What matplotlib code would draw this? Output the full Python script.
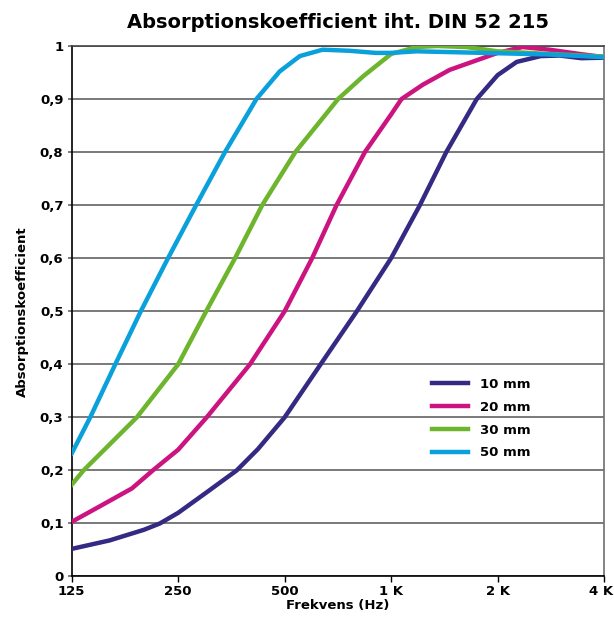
import matplotlib
matplotlib.use("Agg")
import matplotlib.pyplot as plt
from matplotlib.ticker import FixedLocator, NullLocator
from matplotlib.transforms import ScaledTranslation

# readings taken off the reference chart: frequency (Hz) and absorption coefficient
f10 = [125, 160, 200, 222, 250, 300, 366, 420, 500, 632, 800, 1000, 1206, 1432, 1746, 2000, 2265, 2650, 3000, 3450, 4000]
a10 = [0.052, 0.068, 0.088, 0.10, 0.12, 0.158, 0.20, 0.24, 0.30, 0.40, 0.50, 0.60, 0.70, 0.80, 0.90, 0.945, 0.970, 0.981, 0.982, 0.977, 0.978]

f20 = [125, 148, 185, 212, 250, 301, 399, 500, 598, 701, 843, 1000, 1070, 1229, 1464, 2000, 2352, 2805, 3409, 4000]
a20 = [0.103, 0.13, 0.166, 0.20, 0.239, 0.30, 0.40, 0.50, 0.60, 0.70, 0.80, 0.871, 0.90, 0.927, 0.955, 0.987, 0.998, 0.993, 0.985, 0.979]

f30 = [125, 135, 191, 250, 300, 362, 432, 536, 708, 834, 1000, 1181, 1350, 1630, 2000, 2805, 4000]
a30 = [0.173, 0.20, 0.30, 0.40, 0.50, 0.60, 0.70, 0.80, 0.90, 0.943, 0.985, 0.998, 1.0, 0.998, 0.99, 0.985, 0.98]

f50 = [125, 141, 166, 196, 234, 281, 339, 416, 484, 552, 640, 762, 903, 1000, 1181, 1823, 2805, 4000]
a50 = [0.232, 0.30, 0.40, 0.50, 0.60, 0.70, 0.80, 0.90, 0.952, 0.981, 0.993, 0.991, 0.987, 0.987, 0.99, 0.987, 0.984, 0.979]

series = [("10 mm", f10, a10, "#342a83"),
          ("20 mm", f20, a20, "#cc1480"),
          ("30 mm", f30, a30, "#6cb52d"),
          ("50 mm", f50, a50, "#0aa0dc")]

xticks = [125, 250, 500, 1000, 2000, 4000]
xlabels = ["125", "250", "500", "1 K", "2 K", "4 K"]
yticks = [0, 0.1, 0.2, 0.3, 0.4, 0.5, 0.6, 0.7, 0.8, 0.9, 1.0]
ylabels = ["0", "0,1", "0,2", "0,3", "0,4", "0,5", "0,6", "0,7", "0,8", "0,9", "1"]

plt.rcParams['font.family'] = ['DejaVu Sans']
fig = plt.figure(figsize=(6.14, 6.19), dpi=100)
ax = fig.add_axes([0.1168, 0.0687, 0.867, 0.857])

for label, fr, vals, col in series:
    ax.plot(fr, vals, color=col, lw=3.2, label=label, solid_joinstyle='round', zorder=3)

ax.set_xscale('log')
ax.set_xlim(125, 4000)
ax.set_ylim(0, 1)
ax.xaxis.set_major_locator(FixedLocator(xticks))
ax.xaxis.set_minor_locator(NullLocator())
ax.set_xticklabels(xlabels, fontsize=9.5, fontweight='bold')
ax.set_yticks(yticks)
ax.set_yticklabels(ylabels, fontsize=9.5, fontweight='bold')
ax.tick_params(axis='x', length=4, width=1, pad=2)
ax.tick_params(axis='y', length=3, width=1.2, color='#666666', pad=3)

# keep the last x label inside the figure
last = ax.get_xticklabels()[-1]
last.set_transform(last.get_transform() + ScaledTranslation(-3 / 100, 0, fig.dpi_scale_trans))

ax.yaxis.grid(True, color='#6e6e6e', lw=1.3, zorder=1)
ax.spines['left'].set_color('black')
ax.spines['bottom'].set_color('black')
ax.spines['right'].set_color('#6e6e6e')
ax.spines['top'].set_color('#444444')
for s in ax.spines.values():
    s.set_linewidth(1.2)

ax.set_title("Absorptionskoefficient iht. DIN 52 215", fontsize=14, fontweight='bold', pad=13)
ax.set_xlabel("Frekvens (Hz)", fontsize=9.5, fontweight='bold', labelpad=1)
ax.set_ylabel("Absorptionskoefficient", fontsize=9.5, fontweight='bold', labelpad=8)

ax.legend(loc='upper left', bbox_to_anchor=(0.655, 0.397), frameon=False,
          prop={'weight': 'bold', 'size': 9.5}, handlelength=2.7, handletextpad=0.9,
          labelspacing=0.75)

fig.savefig("out.png", dpi=100)
